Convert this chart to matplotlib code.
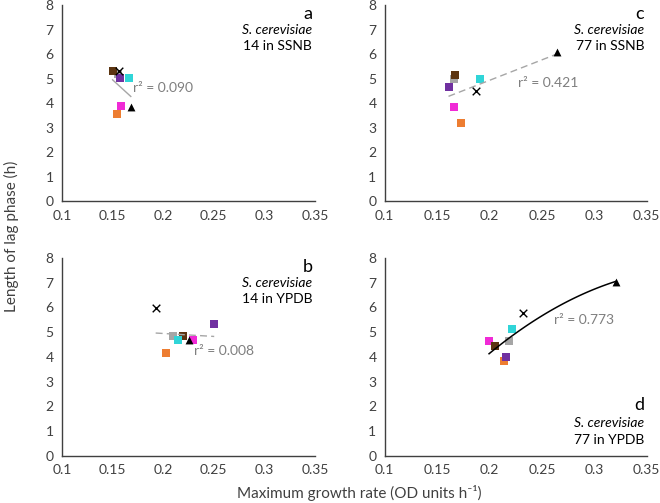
import numpy as np
import matplotlib
matplotlib.use("Agg")
import matplotlib.pyplot as plt

plt.rcParams['font.family'] = ['Lato', 'DejaVu Sans']

# point order: orange, gray, magenta, brown, cyan, purple, cross, triangle
colors = ['#ED7D31', '#A6A6A6', '#F02AD6', '#5C3511', '#30D5D8', '#7030A0']

# a: 14 in SSNB
a_x = [0.1546, 0.1550, 0.1580, 0.1500, 0.1660, 0.1576, 0.1566, 0.1680]
a_y = [3.54, 5.20, 3.87, 5.32, 5.01, 5.01, 5.32, 3.85]
# c: 77 in SSNB
c_x = [0.1728, 0.1665, 0.1658, 0.1670, 0.1907, 0.1608, 0.1871, 0.2639]
c_y = [3.17, 4.97, 3.84, 5.16, 4.98, 4.64, 4.50, 6.09]
# b: 14 in YPDB
b_x = [0.2028, 0.2094, 0.2298, 0.2199, 0.2146, 0.2505, 0.1926, 0.2252]
b_y = [4.17, 4.84, 4.69, 4.86, 4.69, 5.32, 5.97, 4.69]
# d: 77 in YPDB
d_x = [0.2133, 0.2186, 0.1995, 0.2053, 0.2212, 0.2155, 0.2320, 0.3204]
d_y = [3.84, 4.66, 4.66, 4.46, 5.12, 4.00, 5.77, 7.02]

r2_labels = ['r² = 0.090', 'r² = 0.421', 'r² = 0.008', 'r² = 0.773']
strain_labels = ['14 in SSNB', '77 in SSNB', '14 in YPDB', '77 in YPDB']
letters = ['a', 'c', 'b', 'd']

xticks = [0.1, 0.15, 0.2, 0.25, 0.3, 0.35]
xtick_labels = ['0.1', '0.15', '0.2', '0.25', '0.3', '0.35']

fig = plt.figure(figsize=(6.6, 5.03), dpi=100)
ax_a = fig.add_axes([0.094, 0.600, 0.383, 0.390])
ax_c = fig.add_axes([0.583, 0.600, 0.397, 0.390])
ax_b = fig.add_axes([0.094, 0.0934, 0.383, 0.394])
ax_d = fig.add_axes([0.583, 0.0934, 0.397, 0.394])

panels = [
    (ax_a, a_x, a_y, dict(color='#A6A6A6', ls='-', lw=1.0), 1, (0.1700, 4.60), 'top'),
    (ax_c, c_x, c_y, dict(color='#A6A6A6', ls=(0, (5, 3)), lw=1.0), 1, (0.2270, 4.84), 'top'),
    (ax_b, b_x, b_y, dict(color='#A6A6A6', ls=(0, (5, 3)), lw=1.0), 1, (0.2310, 4.24), 'top'),
    (ax_d, d_x, d_y, dict(color='black', ls='-', lw=1.1), 2, (0.2613, 5.49), 'bottom'),
]

for i, (ax, xs, ys, line_kw, deg, r2_pos, text_pos) in enumerate(panels):
    xs = np.array(xs)
    ys = np.array(ys)
    coef = np.polyfit(xs, ys, deg)
    xf = np.linspace(xs.min(), xs.max(), 100)
    ax.plot(xf, np.polyval(coef, xf), zorder=4, **line_kw)

    for j in range(6):
        ax.scatter(xs[j], ys[j], marker='s', s=30, color=colors[j], zorder=3, linewidths=0)
    ax.scatter(xs[6], ys[6], marker='x', s=30, color='black', linewidths=1.0, zorder=5)
    ax.scatter(xs[7], ys[7], marker='^', s=32, color='black', linewidths=0, zorder=5)

    ax.text(r2_pos[0], r2_pos[1], r2_labels[i], fontsize=10, color='#7F7F7F',
            va='center', ha='left')

    if text_pos == 'top':
        ys_txt = [0.955, 0.875, 0.79]
    else:
        ys_txt = [0.258, 0.167, 0.081]
    ax.text(0.99, ys_txt[0], letters[i], transform=ax.transAxes, ha='right', va='center',
            fontsize=13)
    ax.text(0.99, ys_txt[1], 'S. cerevisiae', transform=ax.transAxes, ha='right',
            va='center', fontsize=10, style='italic')
    ax.text(0.99, ys_txt[2], strain_labels[i], transform=ax.transAxes, ha='right',
            va='center', fontsize=10)

    ax.set_xlim(0.1, 0.35)
    ax.set_ylim(0, 8)
    ax.set_xticks(xticks)
    ax.set_xticklabels(xtick_labels)
    ax.set_yticks(range(9))
    ax.tick_params(length=0, labelsize=10, colors='#404040', pad=6)
    for side in ['top', 'right']:
        ax.spines[side].set_visible(False)
    for side in ['left', 'bottom']:
        ax.spines[side].set_color('#404040')
        ax.spines[side].set_linewidth(1.0)
    ax.patch.set_visible(False)

fig.text(0.018, 0.53, 'Length of lag phase (h)', rotation=90, ha='center', va='center',
         fontsize=11, color='#404040')
fig.text(0.545, 0.02, 'Maximum growth rate (OD units h⁻¹)', ha='center', va='center',
         fontsize=11, color='#404040')

fig.savefig('out.png', dpi=100)
